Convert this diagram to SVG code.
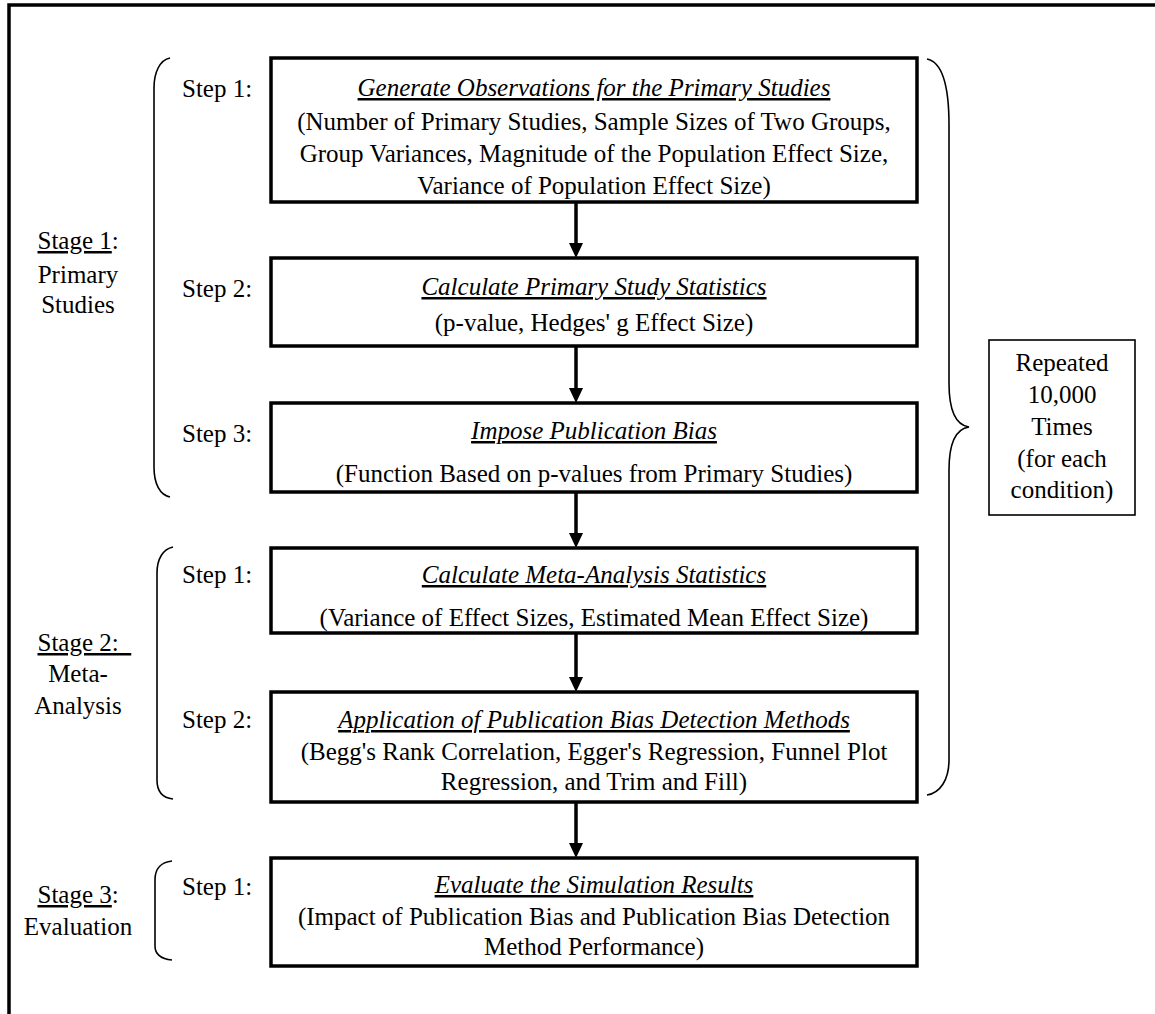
<svg xmlns="http://www.w3.org/2000/svg" width="1155" height="1014" viewBox="0 0 1155 1014">
<style>
text { font-family: "Liberation Serif", "Times New Roman", serif; font-size: 25px; fill: #000; }
.c { text-anchor: middle; }
.t { font-style: italic; text-decoration: underline; }
.u { text-decoration: underline; }
.box { fill: #fff; stroke: #000; stroke-width: 3.5; }
.rbox { fill: #fff; stroke: #000; stroke-width: 1.6; }
.brace { fill: none; stroke: #000; stroke-width: 1.6; }
.frame { fill: none; stroke: #000; stroke-width: 3.5; }
.conn { stroke: #000; stroke-width: 3.5; fill: none; }
</style>
<defs>
<marker id="ah" viewBox="0 0 15 14" refX="5" refY="7" markerWidth="15" markerHeight="14" markerUnits="userSpaceOnUse" orient="auto">
<path d="M0,0 L15,7 L0,14 z" fill="#000"/>
</marker>
</defs>
<rect width="1155" height="1014" fill="#fff"/>
<g id="frame">
<path class="frame" d="M9,1014 L9,5 L1155,5"/>
</g>
<g id="stage1">
<text x="37.5" y="249"><tspan class="u">Stage 1</tspan>:</text>
<text class="c" x="78" y="283">Primary</text>
<text class="c" x="78" y="313">Studies</text>
</g>
<g id="stage2">
<text x="37.5" y="651" xml:space="preserve"><tspan class="u">Stage 2:&#160;&#160;</tspan></text>
<text class="c" x="78" y="682">Meta-</text>
<text class="c" x="78" y="714">Analysis</text>
</g>
<g id="stage3">
<text x="37.5" y="903"><tspan class="u">Stage 3</tspan>:</text>
<text class="c" x="78" y="935">Evaluation</text>
</g>
<g id="braces">
<path class="brace" d="M170,58 C160,60 154,72 154,88 L154,467 C154,484 160,495 170,497"/>
<path class="brace" d="M173,547 C163,549 157,559 157,573 L157,780 C157,792 163,798 173,799"/>
<path class="brace" d="M172,861 C162,862 155,868 155,880 L155,946 C155,955 162,959 172,960"/>
<path class="brace" d="M927,59 C942,62 949,85 949,125 L949,383 C949,410 955,425 969,427 C955,429 949,444 949,470 L949,760 C949,780 940,793 927,795"/>
</g>
<g id="steps">
<text x="182" y="97">Step 1:</text>
<text x="182" y="297">Step 2:</text>
<text x="182" y="442">Step 3:</text>
<text x="182" y="583">Step 1:</text>
<text x="182" y="728">Step 2:</text>
<text x="182" y="895">Step 1:</text>
</g>
<g id="connectors">
<line class="conn" x1="576" y1="202" x2="576" y2="248" marker-end="url(#ah)"/>
<line class="conn" x1="576" y1="346" x2="576" y2="393" marker-end="url(#ah)"/>
<line class="conn" x1="576" y1="492" x2="576" y2="538" marker-end="url(#ah)"/>
<line class="conn" x1="576" y1="633" x2="576" y2="682" marker-end="url(#ah)"/>
<line class="conn" x1="576" y1="802" x2="576" y2="848" marker-end="url(#ah)"/>
</g>
<g id="box1">
<rect class="box" x="271" y="58" width="646" height="144"/>
<text class="c t" x="594" y="96">Generate Observations for the Primary Studies</text>
<text class="c" x="594" y="130">(Number of Primary Studies, Sample Sizes of Two Groups,</text>
<text class="c" x="594" y="162">Group Variances, Magnitude of the Population Effect Size,</text>
<text class="c" x="594" y="194">Variance of Population Effect Size)</text>
</g>
<g id="box2">
<rect class="box" x="271" y="258" width="646" height="88"/>
<text class="c t" x="594" y="295">Calculate Primary Study Statistics</text>
<text class="c" x="594" y="331">(p-value, Hedges' g Effect Size)</text>
</g>
<g id="box3">
<rect class="box" x="271" y="403" width="646" height="89"/>
<text class="c t" x="594" y="439">Impose Publication Bias</text>
<text class="c" x="594" y="482">(Function Based on p-values from Primary Studies)</text>
</g>
<g id="box4">
<rect class="box" x="271" y="548" width="646" height="85"/>
<text class="c t" x="594" y="583">Calculate Meta-Analysis Statistics</text>
<text class="c" x="594" y="626">(Variance of Effect Sizes, Estimated Mean Effect Size)</text>
</g>
<g id="box5">
<rect class="box" x="271" y="692" width="646" height="110"/>
<text class="c t" x="594" y="728">Application of Publication Bias Detection Methods</text>
<text class="c" x="594" y="760">(Begg's Rank Correlation, Egger's Regression, Funnel Plot</text>
<text class="c" x="594" y="790">Regression, and Trim and Fill)</text>
</g>
<g id="box6">
<rect class="box" x="271" y="858" width="646" height="108"/>
<text class="c t" x="594" y="893">Evaluate the Simulation Results</text>
<text class="c" x="594" y="925">(Impact of Publication Bias and Publication Bias Detection</text>
<text class="c" x="594" y="955">Method Performance)</text>
</g>
<g id="repeat">
<rect class="rbox" x="989" y="340" width="146" height="175"/>
<text class="c" x="1062" y="371">Repeated</text>
<text class="c" x="1062" y="403">10,000</text>
<text class="c" x="1062" y="435">Times</text>
<text class="c" x="1062" y="467">(for each</text>
<text class="c" x="1062" y="498">condition)</text>
</g>
</svg>
